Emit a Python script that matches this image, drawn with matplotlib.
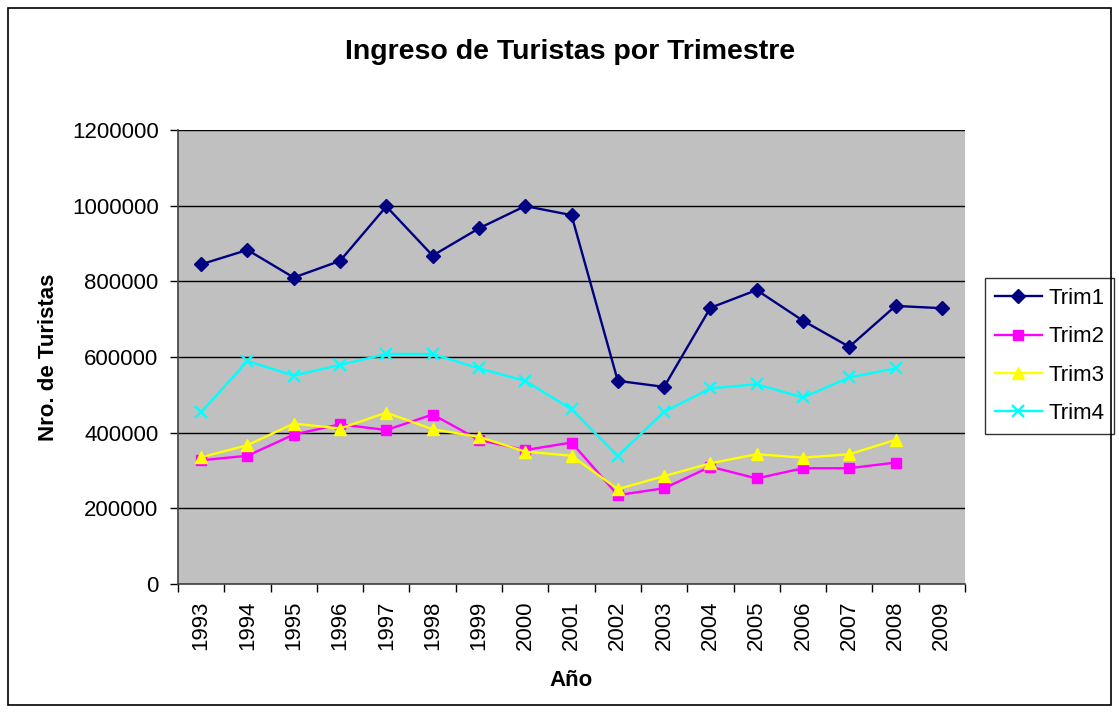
import matplotlib
matplotlib.use("Agg")
import matplotlib.pyplot as plt
from matplotlib.patches import Rectangle
import numpy as np

years = ["1993", "1994", "1995", "1996", "1997", "1998", "1999", "2000", "2001",
         "2002", "2003", "2004", "2005", "2006", "2007", "2008", "2009"]
trim1 = [845000, 883000, 810000, 854000, 998000, 868000, 940000, 999000, 975000,
         537000, 521000, 730000, 777000, 696000, 627000, 735000, 729000]
trim2 = [327000, 339000, 395000, 422000, 407000, 448000, 381000, 354000, 374000,
         235000, 253000, 310000, 279000, 306000, 306000, 321000]
trim3 = [335000, 367000, 424000, 411000, 453000, 409000, 389000, 350000, 339000,
         251000, 285000, 319000, 343000, 334000, 343000, 381000]
trim4 = [454000, 589000, 551000, 579000, 608000, 608000, 570000, 537000, 462000,
         338000, 455000, 517000, 528000, 493000, 546000, 570000]

plt.rcParams['font.family'] = ['Liberation Sans', 'DejaVu Sans']

fig = plt.figure(figsize=(11.19, 7.13), dpi=100)
fig.patches.append(Rectangle((8/1119, 8/713), 1103/1119, 697/713, transform=fig.transFigure,
                             fill=False, edgecolor='black', linewidth=1.2))

ax = fig.add_axes([178/1119, 1 - 584/713, (965-178)/1119, (584-130)/713])
ax.set_facecolor('#C0C0C0')

x = np.arange(len(years))
ax.plot(x[:len(trim1)], trim1, color='#000080', marker='D', markersize=7, linewidth=1.7, label='Trim1')
ax.plot(x[:len(trim2)], trim2, color='#FF00FF', marker='s', markersize=7, linewidth=1.7, label='Trim2')
ax.plot(x[:len(trim3)], trim3, color='#FFFF00', marker='^', markersize=9, linewidth=1.7, label='Trim3')
ax.plot(x[:len(trim4)], trim4, color='#00FFFF', marker='x', markersize=9, markeredgewidth=1.7,
        linewidth=1.7, label='Trim4')

ax.set_xlim(-0.5, len(years) - 0.5)
ax.set_ylim(0, 1200000)
yt = np.arange(0, 1200001, 200000)
ax.set_yticks(yt)
ax.set_yticklabels([str(v) for v in yt], fontsize=16)
ax.yaxis.grid(True, color='black', linewidth=1)
ax.set_axisbelow(True)

ax.set_xticks(x)
ax.set_xticklabels(years, rotation=90, fontsize=16)
ax.set_xticks(np.arange(-0.5, len(years), 1), minor=True)
ax.tick_params(axis='x', which='major', length=0, pad=12)
ax.tick_params(axis='x', which='minor', length=6, width=1, color='black', direction='out')
ax.tick_params(axis='y', length=6, width=1, direction='out', pad=8)

for s in ['top', 'right']:
    ax.spines[s].set_visible(False)
for s in ['left', 'bottom']:
    ax.spines[s].set_color('#404040')
    ax.spines[s].set_linewidth(1.2)

ax.set_xlabel('Año', fontsize=16, fontweight='bold', labelpad=14)
ax.set_ylabel('Nro. de Turistas', fontsize=16, fontweight='bold', labelpad=9)
fig.text(0.5097, 1 - 52/713, 'Ingreso de Turistas por Trimestre', ha='center', va='center',
         fontsize=20.5, fontweight='bold')

leg = ax.legend(loc='center left', bbox_to_anchor=(985/1119, 1 - 356/713),
                bbox_transform=fig.transFigure, fontsize=16, frameon=True,
                fancybox=False, edgecolor='black', handlelength=2.1, borderpad=0.45,
                labelspacing=0.78, handletextpad=0.3, borderaxespad=0)
leg.get_frame().set_linewidth(1)

fig.savefig('out.png', dpi=100, facecolor='white')
